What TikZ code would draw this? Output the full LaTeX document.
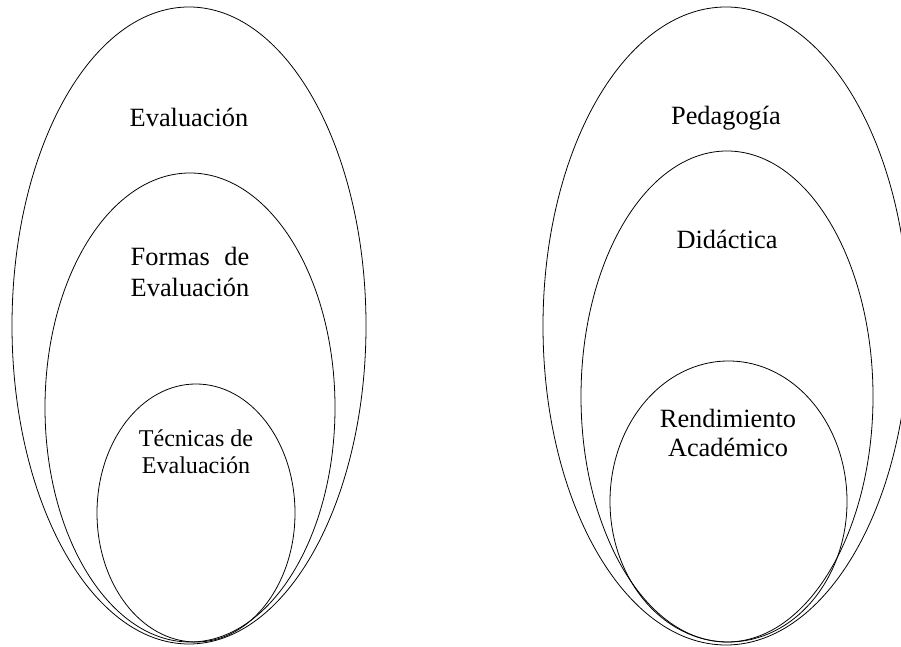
\documentclass[tikz,border=0pt]{standalone}
\usepackage{fontspec}
\setmainfont{Liberation Serif}
\usepackage{calc}
\usetikzlibrary{shapes.geometric}

\begin{document}
\begin{tikzpicture}[
    oval/.style={draw, ellipse, inner sep=0pt, outer sep=0pt, line width=0.45pt},
    lbl/.style={align=center, anchor=base, inner sep=0pt, font=\fontsize{15}{18.2}\selectfont}
  ]
    \useasboundingbox (0,0) rectangle (18.02,12.94);

    \node[oval, minimum width=7.08cm, minimum height=12.74cm] (evalout) at (3.78,6.43) {};
    \node[oval, minimum width=5.80cm, minimum height=9.38cm] (formas) at (3.80,4.79) {};
    \node[oval, minimum width=3.96cm, minimum height=5.16cm] (tecnicas) at (3.92,2.68) {};

    \node[oval, minimum width=7.32cm, minimum height=12.76cm] (pedag) at (14.52,6.42) {};
    \node[oval, minimum width=5.84cm, minimum height=9.82cm] (didac) at (14.54,5.01) {};
    \node[oval, minimum width=4.74cm, minimum height=5.62cm] (rend) at (14.57,2.91) {};

    \node[lbl] (tevaluacion) at (3.78,10.40) {Evaluación};
    \node[lbl] (tformas) at (3.80,7.00) {\makebox[\widthof{Evaluación}][s]{Formas\hfill de}\\Evaluación};
    \node[lbl, font=\fontsize{13.7}{15.9}\selectfont] (ttecnicas) at (3.92,3.46) {Técnicas de\\Evaluación};

    \node[lbl] (tpedagogia) at (14.52,10.44) {Pedagogía};
    \node[lbl] (tdidactica) at (14.54,7.96) {Didáctica};
    \node[lbl, font=\fontsize{15}{16.5}\selectfont] (trend) at (14.56,3.80) {Rendimiento\\Académico};
\end{tikzpicture}
\end{document}
